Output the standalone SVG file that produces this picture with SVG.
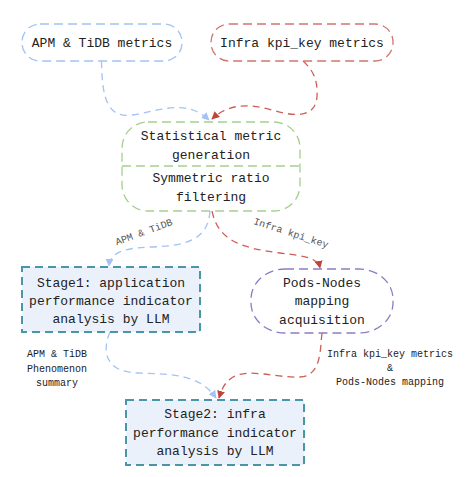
<svg xmlns="http://www.w3.org/2000/svg" width="467" height="477" viewBox="0 0 467 477">
<defs>
<style>
text{font-family:"Liberation Mono","DejaVu Sans Mono",monospace;fill:#222;text-anchor:middle}
.n{font-size:13px}
.s{font-size:10px}
.lbl{font-size:10px;fill:#555}
.node{fill:#fff;stroke-width:1.3;stroke-dasharray:9 5}
.stage{fill:#eaf1fb;stroke:#4a95a6;stroke-width:2;stroke-dasharray:8 5}
.e{fill:none;stroke-width:1.3;stroke-dasharray:7 5}
.bl{stroke:#a4c2f4}
.rd{stroke:#cc5f55}
</style>
<marker id="ab" viewBox="0 0 10 10" refX="9" refY="5" markerWidth="8" markerHeight="8" markerUnits="userSpaceOnUse" orient="auto"><path d="M0,0L10,5L0,10z" fill="#a4c2f4"/></marker>
<marker id="ar" viewBox="0 0 10 10" refX="9" refY="5" markerWidth="8" markerHeight="8" markerUnits="userSpaceOnUse" orient="auto"><path d="M0,0L10,5L0,10z" fill="#c0443a"/></marker>
</defs>
<rect width="467" height="477" fill="#fff"/>
<g id="connectors">
<path class="e bl" d="M101.5,61 C102,100 108,118 132,115 C160,111 185,98 209,120" marker-end="url(#ab)"/>
<path class="e rd" d="M303,61 C313,70 318,80 317,96 C316,118 295,117 272,110 C248,103 228,104 212,119" marker-end="url(#ar)"/>
<path class="e bl" d="M210,211 C208,238 190,246 150,247 C125,248 110,252 109,266" marker-end="url(#ab)"/>
<path class="e rd" d="M212,211 C218,240 240,248 280,253 C305,256 318,258 320,268" marker-end="url(#ar)"/>
<path class="e bl" d="M110,332 C104,345 100,372 138,373 C175,374 200,375 216,398" marker-end="url(#ab)"/>
<path class="e rd" d="M322,333 C320,348 322,376 300,377 C275,378 250,368 233,377 C225,382 222,388 219,398" marker-end="url(#ar)"/>
<text class="lbl" transform="translate(145,235) rotate(-20)">APM &amp; TiDB</text>
<text class="lbl" transform="translate(290,236) rotate(18)">Infra kpi_key</text>
<text class="s" x="57" y="357">APM &amp; TiDB</text>
<text class="s" x="57" y="372">Phenomenon</text>
<text class="s" x="57" y="386">summary</text>
<text class="s" x="390" y="357">Infra kpi_key metrics</text>
<text class="s" x="390" y="371">&amp;</text>
<text class="s" x="390" y="385">Pods-Nodes mapping</text>
</g>
<g id="apm">
<rect class="node" x="22" y="24" width="160" height="37" rx="18" stroke="#a4c2f4"/>
<text class="n" x="102" y="47">APM &amp; TiDB metrics</text>
</g>
<g id="infra">
<rect class="node" x="211" y="24" width="182" height="37" rx="18" stroke="#d0756c"/>
<text class="n" x="302" y="47">Infra kpi_key metrics</text>
</g>
<g id="stat">
<rect class="node" x="122" y="122" width="178" height="89" rx="26" stroke="#a5cf8f"/>
<line x1="122" y1="166" x2="300" y2="166" stroke="#a5cf8f" stroke-width="1.3" stroke-dasharray="9 5"/>
<text class="n" x="211" y="140">Statistical metric</text>
<text class="n" x="211" y="159">generation</text>
<text class="n" x="211" y="182">Symmetric ratio</text>
<text class="n" x="211" y="201">filtering</text>
</g>
<g id="stage1">
<rect class="stage" x="22" y="267" width="178" height="65"/>
<text class="n" x="111" y="287">Stage1: application</text>
<text class="n" x="111" y="305">performance indicator</text>
<text class="n" x="111" y="323">analysis by LLM</text>
</g>
<g id="pods">
<rect class="node" x="251" y="269" width="142" height="64" rx="34" ry="30" stroke="#8e7cc3"/>
<text class="n" x="322" y="287">Pods-Nodes</text>
<text class="n" x="322" y="305">mapping</text>
<text class="n" x="322" y="324">acquisition</text>
</g>
<g id="stage2">
<rect class="stage" x="126" y="400" width="178" height="65"/>
<text class="n" x="215" y="418">Stage2: infra</text>
<text class="n" x="215" y="437">performance indicator</text>
<text class="n" x="215" y="455">analysis by LLM</text>
</g>
</svg>
